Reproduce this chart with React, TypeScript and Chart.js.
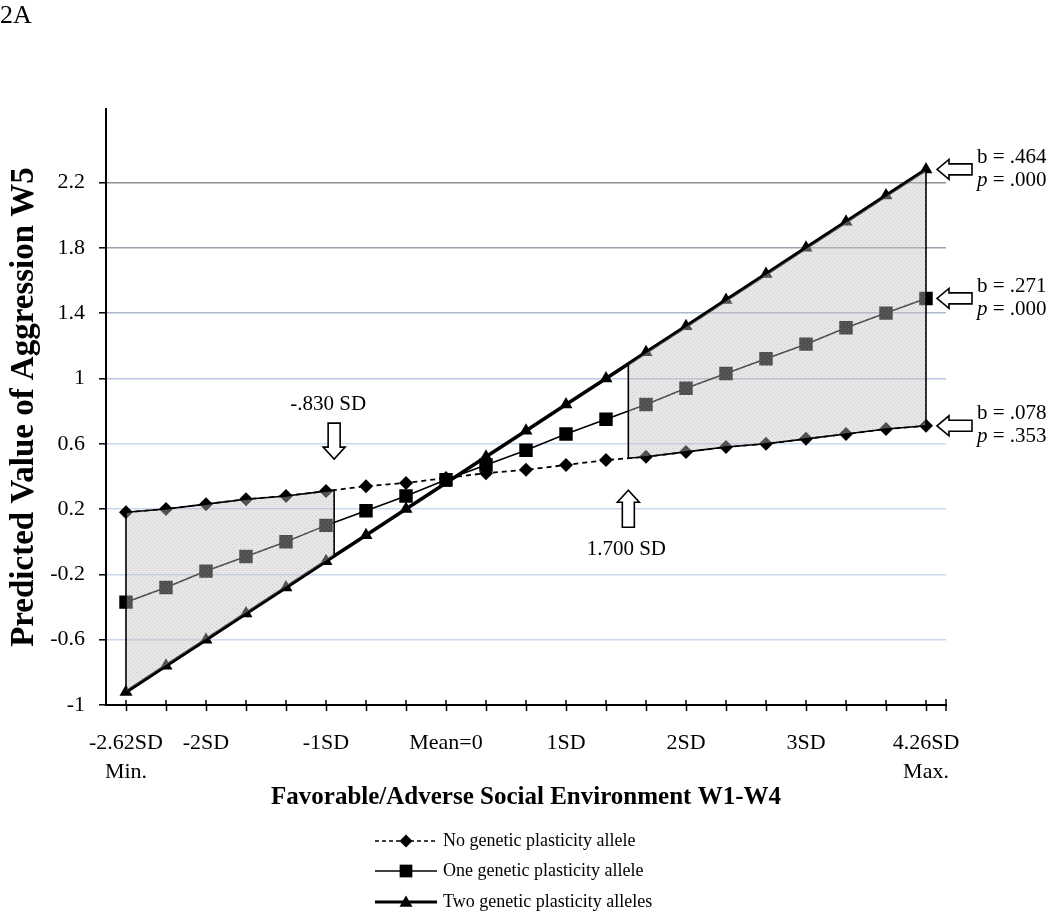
import React, { useEffect, useRef } from 'react';
import { Chart, registerables } from 'chart.js';

Chart.register(...registerables);

const FONT = "'Liberation Serif', 'Times New Roman', serif";

// ---- data ----
const categories: (string | string[])[] = [
  ['-2.62SD', 'Min.'], '', '-2SD', '', '', '-1SD', '', '', 'Mean=0', '', '',
  '1SD', '', '', '2SD', '', '', '3SD', '', '', ['4.26SD', 'Max.'],
];
const noAllele = [0.18, 0.20, 0.23, 0.26, 0.28, 0.31, 0.34, 0.36, 0.39, 0.42, 0.44, 0.47, 0.50, 0.52, 0.55, 0.58, 0.60, 0.63, 0.66, 0.69, 0.71];
const oneAllele = [-0.37, -0.28, -0.18, -0.09, 0.00, 0.10, 0.19, 0.28, 0.38, 0.47, 0.56, 0.66, 0.75, 0.84, 0.94, 1.03, 1.12, 1.21, 1.31, 1.40, 1.49];
const twoAlleles = [-0.92, -0.76, -0.60, -0.44, -0.28, -0.12, 0.04, 0.20, 0.36, 0.52, 0.68, 0.84, 1.00, 1.16, 1.32, 1.48, 1.64, 1.80, 1.96, 2.12, 2.28];
const seriesNames = ['No genetic plasticity allele', 'One genetic plasticity allele', 'Two genetic plasticity alleles'];
const yTicks = [-1, -0.6, -0.2, 0.2, 0.6, 1, 1.4, 1.8, 2.2];
const yTickLabels = ['-1', '-0.6', '-0.2', '0.2', '0.6', '1', '1.4', '1.8', '2.2'];
const yMin = -1;
const yMax = 2.65;
const sdMin = -2.62;
const sdMax = 4.26;
const regionLowSD = -0.83;
const regionHighSD = 1.7;
const regionLowLabel = '-.830 SD';
const regionHighLabel = '1.700 SD';
const slopeLabels = ['b = .078', 'b = .271', 'b = .464'];
const pLabels = ['.353', '.000', '.000'];
const xTitle = 'Favorable/Adverse Social Environment W1-W4';
const yTitle = 'Predicted Value of Aggression W5';
const panelLabel = '2A';

const gridColorFor = (v: number) =>
  v >= 2.19 ? '#8f8f8f' : v >= 1.79 ? '#9ea1ae' : v >= 1.39 ? '#adb8cf' : v >= 0.99 ? '#bac7e0' : '#cad7ef';

function drawMarker(ctx: CanvasRenderingContext2D, style: string, x: number, y: number, r: number) {
  ctx.beginPath();
  if (style === 'diamond') {
    ctx.moveTo(x, y - r); ctx.lineTo(x + r, y); ctx.lineTo(x, y + r); ctx.lineTo(x - r, y);
  } else if (style === 'square') {
    const h = r * Math.SQRT1_2;
    ctx.rect(x - h, y - h, 2 * h, 2 * h);
  } else {
    const s = Math.sin(Math.PI / 3) * r;
    ctx.moveTo(x, y - r); ctx.lineTo(x + s, y + r / 2); ctx.lineTo(x - s, y + r / 2);
  }
  ctx.closePath();
  ctx.fill();
}

function drawArrow(ctx: CanvasRenderingContext2D, tipX: number, tipY: number, dir: string,
  len: number, head: number, headHalf: number, shaftHalf: number) {
  ctx.save();
  ctx.translate(tipX, tipY);
  ctx.rotate(dir === 'left' ? Math.PI : dir === 'down' ? Math.PI / 2 : -Math.PI / 2);
  ctx.beginPath();
  ctx.moveTo(0, 0);
  ctx.lineTo(-head, -headHalf);
  ctx.lineTo(-head, -shaftHalf);
  ctx.lineTo(-len, -shaftHalf);
  ctx.lineTo(-len, shaftHalf);
  ctx.lineTo(-head, shaftHalf);
  ctx.lineTo(-head, headHalf);
  ctx.closePath();
  ctx.fillStyle = '#fff';
  ctx.fill();
  ctx.lineWidth = 1.6;
  ctx.strokeStyle = '#000';
  ctx.stroke();
  ctx.restore();
}

function makeTexture(ctx: CanvasRenderingContext2D) {
  const c = document.createElement('canvas');
  c.width = 4; c.height = 4;
  const g = c.getContext('2d')!;
  g.fillStyle = 'rgba(196,196,196,0.40)';
  g.fillRect(0, 0, 4, 4);
  g.fillStyle = 'rgba(160,160,160,0.35)';
  g.fillRect(0, 0, 1, 1);
  g.fillRect(2, 2, 1, 1);
  return ctx.createPattern(c, 'repeat') || 'rgba(196,196,196,0.42)';
}

const annotations = {
  id: 'annotations',
  afterDatasetsDraw(chart: any) {
    const ctx: CanvasRenderingContext2D = chart.ctx;
    const xs = chart.scales.x;
    const ys = chart.scales.y;
    const n = categories.length - 1;
    const idxOf = (sd: number) => ((sd - sdMin) / (sdMax - sdMin)) * n;
    const yAt = (arr: number[], idx: number) => {
      const i0 = Math.min(Math.floor(idx), arr.length - 1);
      const i1 = Math.min(i0 + 1, arr.length - 1);
      const t = idx - i0;
      return ys.getPixelForValue(arr[i0]) * (1 - t) + ys.getPixelForValue(arr[i1]) * t;
    };
    const texture = makeTexture(ctx);
    const region = (a: number, b: number, upper: number[], lower: number[]) => {
      const steps: number[] = [a];
      for (let i = Math.floor(a) + 1; i < b; i++) steps.push(i);
      steps.push(b);
      ctx.beginPath();
      steps.forEach((s, k) => {
        const px = xs.getPixelForValue(s);
        const py = yAt(upper, s);
        if (k === 0) ctx.moveTo(px, py); else ctx.lineTo(px, py);
      });
      for (let k = steps.length - 1; k >= 0; k--) {
        ctx.lineTo(xs.getPixelForValue(steps[k]), yAt(lower, steps[k]));
      }
      ctx.closePath();
      ctx.fillStyle = texture as any;
      ctx.fill();
      ctx.lineWidth = 1.6;
      ctx.strokeStyle = '#000';
      ctx.stroke();
    };

    ctx.save();
    const lowIdx = idxOf(regionLowSD);
    const highIdx = idxOf(regionHighSD);
    region(0, lowIdx, noAllele, twoAlleles);
    region(highIdx, n, twoAlleles, noAllele);

    // x axis inner tick marks
    const axisY = ys.getPixelForValue(yMin);
    ctx.strokeStyle = '#000';
    ctx.lineWidth = 1.5;
    for (let i = 0; i <= n; i++) {
      const px = xs.getPixelForValue(i);
      ctx.beginPath(); ctx.moveTo(px, axisY - 5); ctx.lineTo(px, axisY); ctx.stroke();
    }
    ctx.beginPath(); ctx.moveTo(xs.right, axisY - 6); ctx.lineTo(xs.right, axisY + 6); ctx.stroke();

    // boundary arrows & labels
    ctx.fillStyle = '#000';
    ctx.font = `21px ${FONT}`;
    ctx.textAlign = 'center';
    ctx.textBaseline = 'middle';
    const lx = xs.getPixelForValue(lowIdx);
    const lTip = yAt(noAllele, lowIdx) - 31;
    drawArrow(ctx, lx, lTip, 'down', 36, 12, 11, 6);
    ctx.fillStyle = '#000';
    ctx.fillText(regionLowLabel, lx - 6, lTip - 36 - 19);

    const hx = xs.getPixelForValue(highIdx);
    const hTip = yAt(noAllele, highIdx) + 32;
    drawArrow(ctx, hx, hTip, 'up', 37, 12, 11, 6);
    ctx.fillStyle = '#000';
    ctx.fillText(regionHighLabel, hx - 2, hTip + 37 + 22);

    // slope annotations at the right
    const lastX = xs.getPixelForValue(n);
    [noAllele, oneAllele, twoAlleles].forEach((arr, k) => {
      const py = ys.getPixelForValue(arr[n]);
      drawArrow(ctx, lastX + 11, py, 'left', 35, 12, 10, 5.5);
      ctx.fillStyle = '#000';
      ctx.textAlign = 'left';
      ctx.font = `21px ${FONT}`;
      ctx.fillText(slopeLabels[k], lastX + 51, py - 12);
      ctx.font = `italic 21px ${FONT}`;
      ctx.fillText('p', lastX + 51, py + 11);
      const pw = ctx.measureText('p').width;
      ctx.font = `21px ${FONT}`;
      ctx.fillText(' = ' + pLabels[k], lastX + 51 + pw, py + 11);
    });

    // panel label
    ctx.textAlign = 'left';
    ctx.textBaseline = 'alphabetic';
    ctx.font = `26px ${FONT}`;
    ctx.fillText(panelLabel, 0, 23);

    // legend
    const rows = [
      { y: 841, dash: [4, 3], w: 1.6, marker: 'diamond', r: 6.5 },
      { y: 871, dash: [], w: 1.6, marker: 'square', r: 9 },
      { y: 902, dash: [], w: 3.2, marker: 'triangle', r: 7.5 },
    ];
    rows.forEach((row, k) => {
      ctx.beginPath();
      ctx.setLineDash(row.dash);
      ctx.lineWidth = row.w;
      ctx.strokeStyle = '#000';
      ctx.moveTo(375, row.y); ctx.lineTo(437, row.y);
      ctx.stroke();
      ctx.setLineDash([]);
      ctx.fillStyle = '#000';
      drawMarker(ctx, row.marker, 406, row.marker === 'triangle' ? row.y + 1 : row.y, row.r);
      ctx.font = `18px ${FONT}`;
      ctx.textBaseline = 'middle';
      ctx.fillText(seriesNames[k], 443, row.y);
    });
    ctx.restore();
  },
};

export default function App() {
  const ref = useRef<HTMLCanvasElement | null>(null);
  useEffect(() => {
    if (!ref.current) return;
    Chart.defaults.font.family = FONT;
    const chart = new Chart(ref.current, {
      type: 'line',
      data: {
        labels: categories as any,
        datasets: [
          {
            label: seriesNames[0], data: noAllele, order: 3,
            borderColor: '#000', backgroundColor: '#000', borderWidth: 1.8, borderDash: [5, 4],
            pointStyle: 'rectRot', pointRadius: 7, pointBorderWidth: 0, pointBackgroundColor: '#000',
          },
          {
            label: seriesNames[1], data: oneAllele, order: 2,
            borderColor: '#000', backgroundColor: '#000', borderWidth: 1.6,
            pointStyle: 'rect', pointRadius: 9.5, pointBorderWidth: 0, pointBackgroundColor: '#000',
          },
          {
            label: seriesNames[2], data: twoAlleles, order: 1,
            borderColor: '#000', backgroundColor: '#000', borderWidth: 3.6,
            pointStyle: 'triangle', pointRadius: 7.5, pointBorderWidth: 0, pointBackgroundColor: '#000',
          },
        ],
      },
      options: {
        responsive: false,
        animation: false,
        events: [],
        layout: { padding: { left: 0, top: 109, right: 104, bottom: 107 } },
        plugins: { legend: { display: false }, tooltip: { enabled: false }, title: { display: false } },
        scales: {
          x: {
            type: 'category',
            offset: true,
            grid: { display: true, drawOnChartArea: false, drawTicks: true, tickLength: 6, tickColor: '#000', tickWidth: 1.5, offset: false },
            border: { display: true, color: '#000', width: 2 },
            ticks: { autoSkip: false, maxRotation: 0, minRotation: 0, padding: 18, color: '#000', font: { family: FONT, size: 22, lineHeight: 1.3 } },
            title: { display: true, text: xTitle, color: '#000', font: { family: FONT, size: 25, weight: 'bold', lineHeight: 1.2 }, padding: { top: 0, bottom: 0 } },
            afterFit: (s: any) => { s.height = 108; },
          },
          y: {
            type: 'linear',
            min: yMin,
            max: yMax,
            afterBuildTicks: (s: any) => { s.ticks = yTicks.map((v) => ({ value: v })); },
            grid: {
              color: (c: any) => gridColorFor(c.tick ? c.tick.value : 0),
              lineWidth: 1.6, drawTicks: true, tickLength: 7, tickColor: '#000', tickWidth: 1.5,
            },
            border: { display: true, color: '#000', width: 2 },
            ticks: {
              padding: 14, color: '#000', font: { family: FONT, size: 22 },
              callback: (v: any) => { const i = yTicks.findIndex((t) => Math.abs(t - v) < 1e-6); return i >= 0 ? yTickLabels[i] : ''; },
            },
            title: { display: true, text: yTitle, color: '#000', font: { family: FONT, size: 33, weight: 'bold', lineHeight: 1.2 }, padding: { top: 5, bottom: 0 } },
            afterFit: (s: any) => { s.width = 106; },
          },
        },
      },
      plugins: [annotations],
    } as any);
    return () => chart.destroy();
  }, []);
  return (
    <div style={{ position: 'absolute', left: 0, top: 0, width: 1050, height: 920, background: '#fff' }}>
      <canvas ref={ref} width={1050} height={920} style={{ display: 'block' }} />
    </div>
  );
}
